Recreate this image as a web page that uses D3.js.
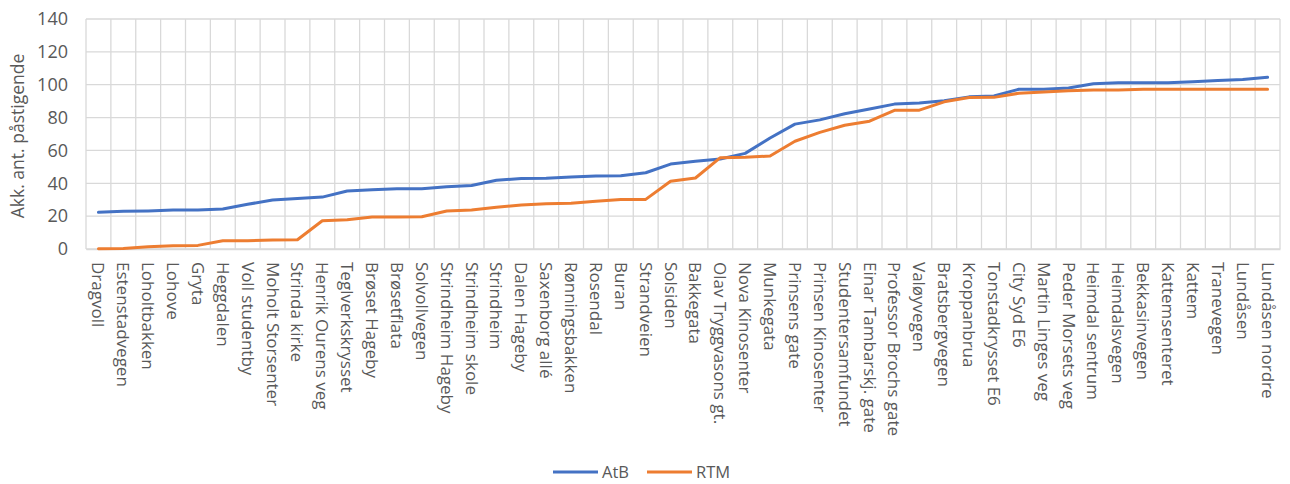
<!DOCTYPE html>
<html>
<head>
<meta charset="utf-8">
<script src="https://cdn.jsdelivr.net/npm/d3@7"></script>
<style>
  html, body { margin: 0; padding: 0; background: #fff; }
  svg { display: block; font-family: "Open Sans", "Noto Sans", sans-serif; }
</style>
</head>
<body>
<svg id="chart" width="1290" height="484"></svg>
<script>
// Stops along the route, in travel order
const stops = [
  "Dragvoll", "Estenstadvegen", "Loholtbakken", "Lohove", "Gryta", "Heggdalen",
  "Voll studentby", "Moholt Storsenter", "Strinda kirke", "Henrik Ourens veg",
  "Teglverkskrysset", "Brøset Hageby", "Brøsetflata", "Solvollvegen",
  "Strindheim Hageby", "Strindheim skole", "Strindheim", "Dalen Hageby",
  "Saxenborg allé", "Rønningsbakken", "Rosendal", "Buran", "Strandveien",
  "Solsiden", "Bakkegata", "Olav Tryggvasons gt.", "Nova Kinosenter", "Munkegata",
  "Prinsens gate", "Prinsen Kinosenter", "Studentersamfundet", "Einar Tambarskj. gate",
  "Professor Brochs gate", "Valøyvegen", "Bratsbergvegen", "Kroppanbrua",
  "Tonstadkrysset E6", "City Syd E6", "Martin Linges veg", "Peder Morsets veg",
  "Heimdal sentrum", "Heimdalsvegen", "Bekkasinvegen", "Kattemsenteret", "Kattem",
  "Tranevegen", "Lundåsen", "Lundåsen nordre"
];

// Accumulated boardings, AtB counts
const atb = [
  22.3, 23.0, 23.2, 23.7, 23.8, 24.3, 27.2, 29.8, 30.8, 31.6,
  35.3, 36.1, 36.7, 36.7, 37.9, 38.7, 41.8, 42.9, 43.0, 43.8,
  44.4, 44.6, 46.4, 51.7, 53.4, 54.8, 58.2, 67.6, 76.0, 78.6,
  82.3, 85.2, 88.2, 88.9, 90.3, 92.6, 93.2, 97.2, 97.2, 98.0,
  100.6, 101.2, 101.2, 101.2, 101.8, 102.5, 103.2, 104.5
];

// Accumulated boardings, RTM model
const rtm = [
  0.2, 0.3, 1.4, 2.0, 2.2, 5.0, 5.0, 5.5, 5.6, 17.2,
  17.8, 19.5, 19.5, 19.6, 23.1, 23.7, 25.4, 26.8, 27.5, 27.8,
  29.0, 30.2, 30.2, 41.2, 43.2, 55.6, 55.8, 56.6, 65.6, 71.0,
  75.3, 77.8, 84.4, 84.5, 89.6, 92.2, 92.3, 94.8, 95.6, 96.3,
  96.8, 96.8, 97.3, 97.3, 97.3, 97.3, 97.3, 97.3
];

const yTicks = [0, 20, 40, 60, 80, 100, 120, 140];

const seriesNames = ["AtB", "RTM"];
const seriesColors = ["#4472C4", "#ED7D31"];

const svg = d3.select("#chart");
const margin = { left: 86, right: 10, top: 19, bottom: 235 };
const W = 1290, H = 484;
const plotRight = W - margin.right;
const plotBottom = H - margin.bottom;

const x = d3.scaleBand().domain(stops).range([margin.left, plotRight]).padding(0);
const y = d3.scaleLinear().domain([0, 140]).range([plotBottom, margin.top]);

const grid = svg.append("g").attr("stroke", "#d9d9d9").attr("stroke-width", 1.3);

// Horizontal gridlines
grid.selectAll("line.h").data(yTicks).join("line")
  .attr("x1", margin.left).attr("x2", plotRight)
  .attr("y1", d => y(d)).attr("y2", d => y(d));

// Vertical gridlines at category boundaries
const edges = stops.map(s => x(s)).concat([x(stops[stops.length - 1]) + x.bandwidth()]);
grid.selectAll("line.v").data(edges).join("line")
  .attr("x1", d => d).attr("x2", d => d)
  .attr("y1", margin.top).attr("y2", plotBottom);

// Y axis tick labels
const yAxis = d3.axisLeft(y).tickValues(yTicks).tickSize(0).tickPadding(18);
const gy = svg.append("g").attr("transform", `translate(${margin.left},0)`).call(yAxis);
gy.select(".domain").remove();
gy.selectAll("text").attr("font-family", "Open Sans").attr("font-size", 18).attr("fill", "#595959");

// X axis labels, rotated downwards
const xAxis = d3.axisBottom(x).tickSize(0).tickPadding(0);
const gx = svg.append("g").attr("transform", `translate(0,${plotBottom})`).call(xAxis);
gx.select(".domain").attr("stroke", "#d9d9d9").attr("stroke-width", 1.3);
gx.selectAll("text")
  .attr("font-family", "Open Sans").attr("font-size", 17).attr("fill", "#595959")
  .attr("transform", "rotate(90)")
  .attr("text-anchor", "start")
  .attr("dy", "0.35em")
  .attr("x", 13).attr("y", 0);

// Y axis title
svg.append("text")
  .attr("transform", `translate(18,136) rotate(-90)`)
  .attr("text-anchor", "middle").attr("dy", "0.35em")
  .attr("font-size", 17.5).attr("fill", "#595959")
  .text("Akk. ant. påstigende");

// Series lines
const line = d3.line()
  .x((d, i) => x(stops[i]) + x.bandwidth() / 2)
  .y(d => y(d));

[atb, rtm].forEach((vals, k) => {
  svg.append("path").datum(vals)
    .attr("fill", "none")
    .attr("stroke", seriesColors[k])
    .attr("stroke-width", 3)
    .attr("stroke-linejoin", "round")
    .attr("stroke-linecap", "round")
    .attr("d", line);
});

// Legend
const legend = svg.append("g").attr("transform", "translate(553,472)");
const legendX = [0, 94];
seriesNames.forEach((name, k) => {
  const g = legend.append("g").attr("transform", `translate(${legendX[k]},0)`);
  g.append("line").attr("x1", 0).attr("x2", 45).attr("y1", 0).attr("y2", 0)
    .attr("stroke", seriesColors[k]).attr("stroke-width", 3);
  g.append("text").attr("x", 49).attr("dy", "0.35em")
    .attr("font-size", 16.5).attr("fill", "#595959").text(name);
});
</script>
</body>
</html>
